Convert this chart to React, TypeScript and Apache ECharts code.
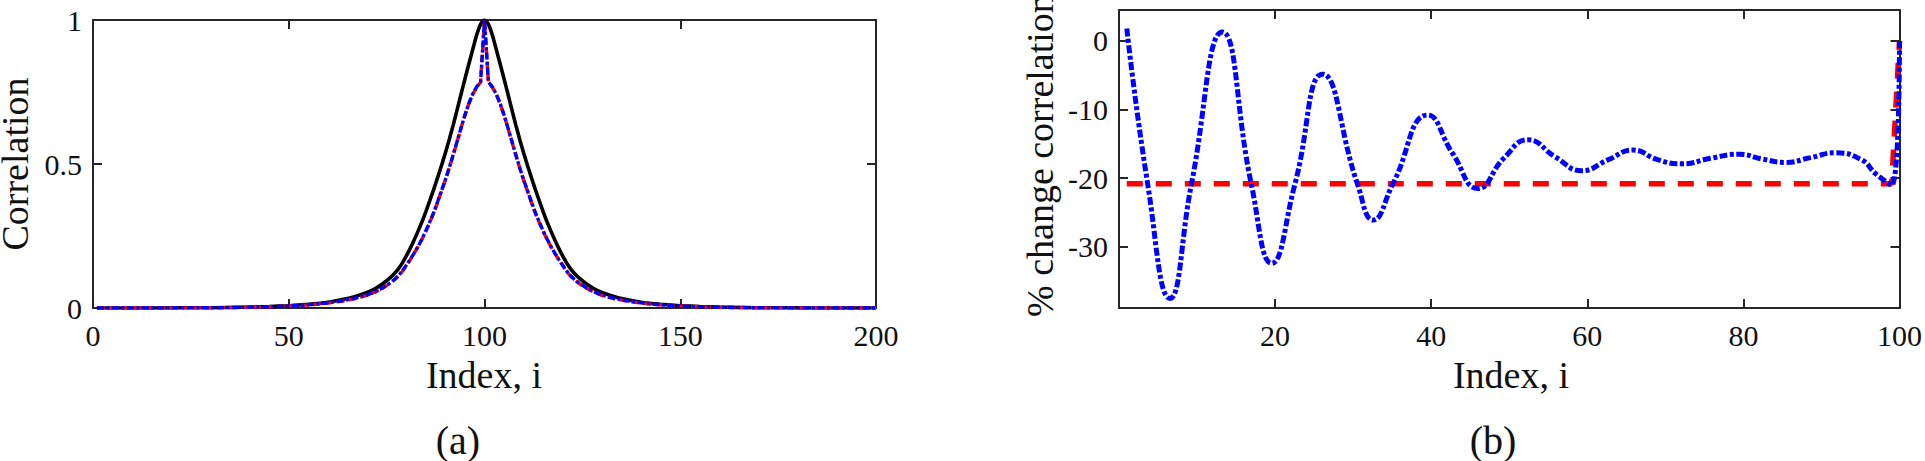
import React, { useEffect, useRef } from "react";
import * as echarts from "echarts";

// ---------- Panel (a): correlation vs index ----------
const indexA = [
  1, 20, 30, 40, 45, 50, 55, 60, 64, 67, 70, 72, 74, 76, 77, 78, 79, 80, 81, 82, 83, 84, 85, 86, 87, 88, 89, 90, 91,
  92, 93, 94, 95, 96, 97, 98, 99,
  100,
  101, 102, 103, 104, 105, 106, 107, 108, 109, 110, 111, 112, 113, 114, 115, 116, 117, 118, 119, 120, 121, 122, 123,
  124, 126, 128, 130, 133, 136, 140, 145, 150, 155, 160, 170, 180, 200,
];
const blackA = [
  0, 0.0004, 0.001, 0.003, 0.005, 0.008, 0.013, 0.02, 0.03, 0.04, 0.054, 0.067, 0.084, 0.106, 0.12, 0.136, 0.156,
  0.18, 0.206, 0.235, 0.266, 0.298, 0.334, 0.372, 0.411, 0.452, 0.494, 0.538, 0.585, 0.635, 0.688, 0.742, 0.795,
  0.847, 0.898, 0.948, 0.985,
  1.0,
  0.985, 0.948, 0.898, 0.847, 0.795, 0.742, 0.688, 0.635, 0.585, 0.538, 0.494, 0.452, 0.411, 0.372, 0.334, 0.298,
  0.266, 0.235, 0.206, 0.18, 0.156, 0.136, 0.12, 0.106, 0.084, 0.067, 0.054, 0.04, 0.03, 0.02, 0.013, 0.008, 0.005,
  0.003, 0.001, 0.0004, 0,
];
const redA = [
  0, 0.0003, 0.0008, 0.0024, 0.004, 0.007, 0.011, 0.017, 0.025, 0.033, 0.044, 0.055, 0.069, 0.087, 0.098, 0.111,
  0.127, 0.147, 0.167, 0.189, 0.212, 0.238, 0.266, 0.297, 0.329, 0.366, 0.405, 0.444, 0.486, 0.531, 0.577, 0.624,
  0.669, 0.709, 0.742, 0.767, 0.784,
  1.0,
  0.784, 0.767, 0.742, 0.709, 0.669, 0.624, 0.577, 0.531, 0.486, 0.444, 0.405, 0.366, 0.329, 0.297, 0.266, 0.238,
  0.212, 0.189, 0.167, 0.147, 0.127, 0.111, 0.098, 0.087, 0.069, 0.055, 0.044, 0.033, 0.025, 0.017, 0.011, 0.007,
  0.004, 0.0024, 0.0008, 0.0003, 0,
];
const blueA = [
  0, 0.0003, 0.0008, 0.0025, 0.004, 0.007, 0.011, 0.018, 0.026, 0.034, 0.045, 0.056, 0.07, 0.088, 0.099, 0.112, 0.128,
  0.148, 0.168, 0.19, 0.213, 0.239, 0.267, 0.298, 0.33, 0.368, 0.407, 0.445, 0.487, 0.532, 0.578, 0.625, 0.67, 0.71,
  0.743, 0.768, 0.785,
  1.0,
  0.785, 0.768, 0.743, 0.71, 0.67, 0.625, 0.578, 0.532, 0.487, 0.445, 0.407, 0.368, 0.33, 0.298, 0.267, 0.239, 0.213,
  0.19, 0.168, 0.148, 0.128, 0.112, 0.099, 0.088, 0.07, 0.056, 0.045, 0.034, 0.026, 0.018, 0.011, 0.007, 0.004,
  0.0025, 0.0008, 0.0003, 0,
];
const xTicksA = [0, 50, 100, 150, 200];
const yTicksA = [0, 0.5, 1];

// ---------- Panel (b): % change correlation ----------
const indexB = [
  1, 3.67, 6.52, 9.29, 13.24, 16.94, 19.57, 22.55, 26.08, 30.54, 32.58, 35.1, 39.58, 42.75, 46.0, 49.3, 52.4, 55.9,
  59.3, 62.7, 65.85, 69.0, 72.1, 75.8, 79.45, 82.4, 85.4, 88.6, 91.8, 95.2, 96.9, 99, 100,
];
const blueB = [
  1.8, -20.8, -37.5, -20.8, 1.3, -20.8, -32.4, -20.8, -4.85, -20.8, -26.1, -20.8, -10.8, -16.4, -21.5, -17.1, -14.4,
  -16.9, -18.9, -17.3, -15.9, -17.3, -17.9, -17.1, -16.5, -17.2, -17.7, -17.0, -16.3, -17.35, -19.3, -21.0, 0,
];
const redIndexB = [1, 99, 100];
const redB = [-20.8, -20.8, 0];
const xTicksB = [20, 40, 60, 80, 100];
const yTicksB = [-30, -20, -10, 0];

const FONT = "'Liberation Serif', 'Times New Roman', serif";
const AXIS_COLOR = "#262626";
const TEXT_COLOR = "#111111";

const zip = (xs: number[], ys: number[]) => xs.map((x, i) => [x, ys[i]]);

function axis(gridIndex: number, min: number, max: number, ticks: number[], extra: any, labels: boolean, margin: number) {
  return {
    type: "value",
    gridIndex,
    min,
    max,
    axisLine: { show: true, onZero: false, lineStyle: { color: AXIS_COLOR, width: 2 } },
    axisTick: { show: true, inside: true, length: 9, customValues: ticks, lineStyle: { color: AXIS_COLOR, width: 2 } },
    axisLabel: labels
      ? { show: true, fontSize: 30, fontFamily: FONT, color: TEXT_COLOR, margin, customValues: ticks }
      : { show: false },
    splitLine: { show: false },
    ...extra,
  };
}

export default function App() {
  const ref = useRef<HTMLDivElement>(null);
  useEffect(() => {
    if (!ref.current) return;
    const chart = echarts.init(ref.current, undefined, { renderer: "svg" });
    const option: any = {
      animation: false,
      grid: [
        { left: 93, top: 20, width: 783, height: 288 },
        { left: 1119, top: 10, width: 784, height: 298 },
      ],
      xAxis: [
        axis(0, 0, 200, xTicksA, {}, true, 12),
        axis(0, 0, 200, xTicksA, { position: "top" }, false, 0),
        axis(1, 0, 100, xTicksB, {}, true, 12),
        axis(1, 0, 100, xTicksB, { position: "top" }, false, 0),
      ],
      yAxis: [
        axis(0, 0, 1, yTicksA, {}, true, 11),
        axis(0, 0, 1, yTicksA, { position: "right" }, false, 0),
        axis(1, -38.9, 4.5, yTicksB, {}, true, 11),
        axis(1, -38.9, 4.5, yTicksB, { position: "right" }, false, 0),
      ],
      series: [
        {
          type: "line", xAxisIndex: 0, yAxisIndex: 0, data: zip(indexA, blackA), showSymbol: false, symbol: "none",
          smooth: 0.2, lineStyle: { color: "#000000", width: 3.6, type: "solid" },
        },
        {
          type: "line", xAxisIndex: 0, yAxisIndex: 0, data: zip(indexA, redA), showSymbol: false, symbol: "none",
          lineStyle: { color: "#ff0000", width: 3.4, type: [8, 4] },
        },
        {
          type: "line", xAxisIndex: 0, yAxisIndex: 0, data: zip(indexA, blueA), showSymbol: false, symbol: "none",
          lineStyle: { color: "#0000ff", width: 3.4, type: [7, 2.5, 3, 2.5] },
        },
        {
          type: "line", xAxisIndex: 2, yAxisIndex: 2, data: zip(redIndexB, redB), showSymbol: false, symbol: "none",
          lineStyle: { color: "#ff0000", width: 5.5, type: [16, 13] },
        },
        {
          type: "line", xAxisIndex: 2, yAxisIndex: 2, data: zip(indexB, blueB), showSymbol: false, symbol: "none",
          smooth: 0.5, lineStyle: { color: "#0000ff", width: 5, type: [8, 2.5, 4, 2.5] },
        },
      ],
      graphic: [
        {
          type: "text", x: 15, y: 164, rotation: Math.PI / 2,
          style: { text: "Correlation", fontSize: 38, fontFamily: FONT, fill: TEXT_COLOR, align: "center", verticalAlign: "middle" },
        },
        {
          type: "text", x: 484, y: 375,
          style: { text: "Index, i", fontSize: 38, fontFamily: FONT, fill: TEXT_COLOR, align: "center", verticalAlign: "middle" },
        },
        {
          type: "text", x: 458, y: 440,
          style: { text: "(a)", fontSize: 40, fontFamily: FONT, fill: TEXT_COLOR, align: "center", verticalAlign: "middle" },
        },
        {
          type: "text", x: 1040, y: 317, rotation: Math.PI / 2,
          style: { text: "% change correlation", fontSize: 38, fontFamily: FONT, fill: TEXT_COLOR, align: "left", verticalAlign: "middle" },
        },
        {
          type: "text", x: 1511, y: 375,
          style: { text: "Index, i", fontSize: 38, fontFamily: FONT, fill: TEXT_COLOR, align: "center", verticalAlign: "middle" },
        },
        {
          type: "text", x: 1493, y: 440,
          style: { text: "(b)", fontSize: 40, fontFamily: FONT, fill: TEXT_COLOR, align: "center", verticalAlign: "middle" },
        },
      ],
    };
    chart.setOption(option);
    return () => chart.dispose();
  }, []);
  return (
    <div
      ref={ref}
      style={{ position: "absolute", left: 0, top: 0, width: 1925, height: 461, background: "#ffffff" }}
    />
  );
}
